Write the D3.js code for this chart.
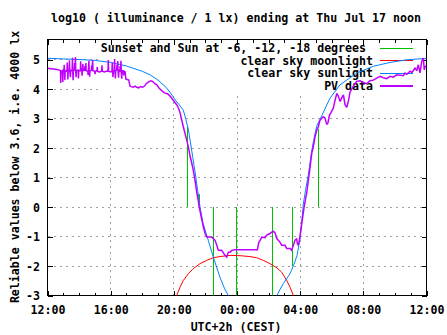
<!DOCTYPE html>
<html>
<head>
<meta charset="utf-8">
<script src="https://cdn.jsdelivr.net/npm/d3@7"></script>
<style>
  html, body { margin: 0; padding: 0; background: #fff; }
  svg { display: block; }
  text {
    font-family: "DejaVu Sans Mono", "Liberation Mono", monospace;
    font-weight: bold;
    font-size: 11.6px;
    fill: #000;
    white-space: pre;
  }
</style>
</head>
<body>
<svg id="chart" width="447" height="335"></svg>
<script>
// ---- labels -------------------------------------------------------------
const titleText = "log10 ( illuminance / 1 lx) ending at Thu Jul 17 noon";
const xAxisTitle = "UTC+2h (CEST)";
const yAxisTitle = "Reliable values below 3.6, i.e. 4000 lx";

// hours after 12:00 on the first day
const xTickHours = [0, 4, 8, 12, 16, 20, 24];
const xTickLabels = ["12:00", "16:00", "20:00", "00:00", "04:00", "08:00", "12:00"];
const xMinorHours = d3.range(0, 25, 1);
const yTickValues = [-3, -2, -1, 0, 1, 2, 3, 4, 5];
const yTop = 5.678;

const seriesNames = [
  "Sunset and Sun at -6, -12, -18 degrees ",
  "clear sky moonlight",
  "clear sky sunlight",
  "PV data"
];
const seriesColors = ["#00c000", "#ff0000", "#0080ff", "#c000ff"];

// ---- data: [hours after 12:00, log10(lx)] -----------------------------------
// sunset / twilight markers: [hour, end value of the bar drawn from 0]
const sunEvents = [
  [8.85, 2.70], [9.59, 0.43], [10.50, -3.0], [11.92, -3.0],
  [14.20, -3.0], [15.51, -2.0], [17.15, 2.65]
];

const moonlight = [
  [8.05, -3.3], [8.18, -3.00], [8.39, -2.72], [8.60, -2.49], [8.92, -2.26],
  [9.23, -2.09], [9.66, -1.92], [10.08, -1.81], [10.50, -1.72], [10.92, -1.68],
  [11.56, -1.64], [12.19, -1.65], [12.82, -1.68], [13.25, -1.72], [13.67, -1.81],
  [14.09, -1.92], [14.52, -2.06], [14.83, -2.21], [15.15, -2.49], [15.36, -2.72],
  [15.57, -3.00], [15.66, -3.3]
];

const sunlightEvening = [
  [0, 5.04], [1, 5.02], [2, 5.00], [3, 4.97], [4, 4.90], [5, 4.78], [6, 4.60],
  [6.5, 4.48], [7, 4.30], [7.5, 4.06], [7.8, 3.86], [8.1, 3.62], [8.35, 3.46],
  [8.6, 3.28], [8.75, 3.00], [8.92, 2.62], [9.05, 2.20], [9.2, 1.68], [9.34, 1.20],
  [9.5, 0.60], [9.66, 0.00], [9.85, -0.55], [10.18, -1.13], [10.5, -1.70],
  [10.92, -2.38], [11.2, -2.75], [11.45, -3.00], [11.6, -3.25]
];
const sunlightMorning = [
  [14.35, -3.2], [14.52, -3.00], [14.93, -2.60], [15.36, -2.26], [15.6, -1.95],
  [15.8, -1.65], [16.0, -1.05], [16.1, -0.50], [16.2, 0.10], [16.35, 0.60],
  [16.52, 1.10], [16.73, 1.90], [16.85, 2.25], [17.05, 2.75], [17.37, 3.10],
  [17.89, 3.69], [18.52, 4.14], [19.58, 4.54], [20.63, 4.77], [21.69, 4.90],
  [22.75, 4.99], [23.8, 5.03], [24, 5.04]
];

const pvData = [
  [0.00, 4.70], [0.20, 4.69], [0.40, 4.68], [0.60, 4.66], [0.75, 4.64],
  // afternoon: broken cloud, short spikes around a steady level
  [0.82, 4.62], [0.84, 4.20], [0.86, 4.60], [0.95, 4.62], [0.97, 4.24], [0.99, 4.64],
  [1.04, 4.63], [1.06, 4.82], [1.08, 4.60], [1.10, 4.30], [1.12, 4.62], [1.23, 4.60],
  [1.25, 4.90], [1.27, 4.60], [1.29, 4.32], [1.31, 4.61], [1.37, 4.63], [1.39, 4.97],
  [1.41, 4.62], [1.45, 4.40], [1.47, 4.63], [1.56, 4.62], [1.58, 5.06], [1.60, 4.60],
  [1.62, 4.30], [1.64, 4.62], [1.70, 4.66], [1.72, 4.88], [1.74, 4.62], [1.77, 5.08],
  [1.79, 4.60], [1.81, 4.40], [1.83, 4.62], [1.94, 4.64], [1.96, 4.36], [1.98, 4.62],
  [2.08, 4.62], [2.10, 4.94], [2.12, 4.60], [2.17, 4.62], [2.19, 4.45], [2.21, 4.63],
  [2.24, 4.85], [2.26, 4.62], [2.35, 4.64], [2.37, 4.78], [2.39, 4.62], [2.41, 4.63],
  [2.43, 4.88], [2.45, 4.62], [2.55, 4.60], [2.57, 4.48], [2.59, 4.61], [2.62, 4.96],
  [2.64, 4.60], [2.67, 4.42], [2.69, 4.62], [2.78, 4.64], [2.80, 4.80], [2.82, 4.62],
  [2.86, 4.98], [2.88, 4.62], [2.99, 4.60], [3.01, 4.50], [3.03, 4.60], [3.13, 4.62],
  [3.15, 4.74], [3.17, 4.60], [3.30, 4.58], [3.43, 4.60], [3.45, 4.80], [3.47, 4.60],
  [3.60, 4.58], [3.70, 4.60], [3.83, 4.60], [3.85, 4.98], [3.87, 4.60], [4.00, 4.58],
  [4.08, 4.60], [4.10, 4.90], [4.12, 4.60], [4.15, 4.40], [4.17, 4.60], [4.23, 4.62],
  [4.25, 5.02], [4.27, 4.60], [4.30, 4.36], [4.32, 4.62], [4.38, 4.64], [4.40, 4.82],
  [4.42, 4.62], [4.45, 4.95], [4.47, 4.60], [4.50, 4.38], [4.52, 4.62], [4.58, 4.60],
  [4.60, 4.78], [4.62, 4.60], [4.65, 4.96], [4.67, 4.60], [4.70, 4.35], [4.72, 4.62],
  [4.80, 4.62], [4.83, 4.46], [4.85, 4.60], [4.92, 4.58],
  // evening
  [4.96, 4.34], [5.05, 4.32], [5.15, 4.30], [5.22, 4.10], [5.30, 4.08], [5.42, 4.06],
  [5.55, 4.10], [5.65, 4.06], [5.78, 4.04], [5.90, 4.08], [6.02, 4.06], [6.15, 4.10],
  [6.25, 4.18], [6.40, 4.24], [6.55, 4.28], [6.65, 4.26], [6.80, 4.18], [6.92, 4.14],
  [7.05, 4.04], [7.20, 3.96], [7.33, 3.90], [7.45, 3.86], [7.60, 3.84], [7.76, 3.76],
  [7.90, 3.66], [8.05, 3.56], [8.20, 3.45], [8.30, 3.35], [8.39, 3.20], [8.50, 2.95],
  [8.60, 2.72], [8.71, 2.49], [8.82, 2.26], [8.92, 2.04], [9.03, 1.72], [9.13, 1.50],
  [9.23, 1.25], [9.34, 0.91], [9.45, 0.50], [9.55, 0.20], [9.61, 0.00], [9.72, -0.30],
  [9.80, -0.50], [9.87, -0.68], [9.98, -0.90], [10.08, -1.02],
  // night
  [10.40, -1.02], [10.61, -1.13], [10.72, -1.30], [10.82, -1.47], [11.03, -1.47],
  [11.24, -1.64], [11.35, -1.70], [11.45, -1.53], [11.56, -1.53], [11.67, -1.47],
  [11.87, -1.45], [13.29, -1.45], [13.38, -1.20], [13.46, -1.13], [13.57, -1.02],
  [13.78, -1.04], [13.88, -0.95], [14.09, -0.90], [14.20, -0.85], [14.30, -0.82],
  [14.41, -0.88], [14.52, -1.07], [14.72, -1.19], [14.83, -1.30], [15.04, -1.30],
  [15.15, -1.41], [15.36, -1.41], [15.46, -1.47], [15.57, -1.30], [15.67, -1.13],
  [15.78, -1.07], [15.82, -1.24], [15.88, -1.30], [15.95, -1.13], [16.04, -0.79],
  // morning
  [16.16, -0.34], [16.25, 0.00], [16.42, 0.50], [16.52, 0.91], [16.63, 1.36],
  [16.73, 1.81], [16.83, 2.04], [16.94, 2.38], [17.05, 2.60], [17.15, 2.72],
  [17.25, 2.94], [17.46, 3.06], [17.57, 3.02], [17.68, 2.80], [17.76, 2.85],
  [17.85, 3.11], [17.95, 3.20], [18.10, 3.35], [18.21, 3.62], [18.32, 3.85],
  [18.42, 3.75], [18.53, 3.58], [18.63, 3.70], [18.74, 3.80], [18.84, 3.47],
  [18.95, 3.38], [19.05, 3.58], [19.16, 3.90], [19.37, 4.10], [19.58, 4.26],
  [19.79, 4.28], [20.00, 4.22], [20.21, 4.18], [20.42, 4.28], [20.63, 4.30],
  [20.85, 4.37], [21.06, 4.43], [21.27, 4.38], [21.48, 4.35], [21.69, 4.43],
  [21.90, 4.40], [22.11, 4.48], [22.32, 4.47], [22.53, 4.45], [22.64, 4.54],
  [22.75, 4.50], [22.96, 4.60], [23.08, 4.56], [23.27, 4.71], [23.38, 4.62],
  [23.48, 4.82], [23.59, 4.55], [23.70, 4.94], [23.80, 5.05], [23.86, 4.65],
  [23.91, 4.75], [24.00, 4.80]
];

// ---- layout ---------------------------------------------------------------
const plot = { left: 47.5, right: 426.5, top: 39.5, bottom: 295.5 };
const keyBox = { left: 99, bottom: 93 };
const keyTextRight = 373;
const keySample = [380, 413];
const keyRowY = [48, 60.5, 73, 86];

const x = d3.scaleLinear().domain([0, 24]).range([plot.left, plot.right]);
const y = d3.scaleLinear().domain([-3, yTop]).range([plot.bottom, plot.top]);

const svg = d3.select("#chart");
svg.append("rect").attr("width", 447).attr("height", 335).attr("fill", "#fff");

svg.append("defs").append("clipPath").attr("id", "plotClip")
  .append("rect")
  .attr("x", plot.left).attr("y", plot.top)
  .attr("width", plot.right - plot.left).attr("height", plot.bottom - plot.top);

// ---- grid (kept out of the key area) -------------------------------------
const grid = svg.append("g")
  .attr("stroke", "#a0a0a0").attr("stroke-width", 1)
  .attr("stroke-dasharray", "2,4").attr("shape-rendering", "crispEdges");

yTickValues.filter(v => v > -3).forEach(v => {
  const yy = Math.round(y(v) - 0.5) + 0.5;
  const x2 = yy < keyBox.bottom ? keyBox.left : plot.right;
  grid.append("line").attr("x1", plot.left).attr("x2", x2).attr("y1", yy).attr("y2", yy);
});
xTickHours.filter(h => h > 0 && h < 24).forEach(h => {
  const xx = Math.round(x(h) - 0.5) + 0.5;
  const y1 = xx > keyBox.left ? keyBox.bottom : plot.top;
  grid.append("line").attr("x1", xx).attr("x2", xx).attr("y1", plot.bottom).attr("y2", y1);
});

// ---- axes: border + inward ticks on all four sides -----------------------
const axes = svg.append("g").attr("shape-rendering", "crispEdges");
const major = 5, minor = 3;

const xBottom = d3.axisBottom(x).tickValues(xTickHours)
  .tickFormat((d, i) => xTickLabels[i]).tickSizeInner(-major).tickSizeOuter(0).tickPadding(12);
const gxb = axes.append("g").attr("transform", `translate(0,${plot.bottom})`).call(xBottom);

const xBottomMinor = d3.axisBottom(x).tickValues(xMinorHours)
  .tickFormat("").tickSizeInner(-minor).tickSizeOuter(0);
axes.append("g").attr("transform", `translate(0,${plot.bottom})`).call(xBottomMinor);

const xTop = d3.axisTop(x).tickValues(xTickHours).tickFormat("").tickSizeInner(-major).tickSizeOuter(0);
axes.append("g").attr("transform", `translate(0,${plot.top})`).call(xTop);
const xTopMinor = d3.axisTop(x).tickValues(xMinorHours).tickFormat("").tickSizeInner(-minor).tickSizeOuter(0);
axes.append("g").attr("transform", `translate(0,${plot.top})`).call(xTopMinor);

const yLeft = d3.axisLeft(y).tickValues(yTickValues).tickFormat(d3.format("d"))
  .tickSizeInner(-major).tickSizeOuter(0).tickPadding(12);
const gyl = axes.append("g").attr("transform", `translate(${plot.left},0)`).call(yLeft);

const yRight = d3.axisRight(y).tickValues(yTickValues).tickFormat("").tickSizeInner(-major).tickSizeOuter(0);
axes.append("g").attr("transform", `translate(${plot.right},0)`).call(yRight);

axes.selectAll(".domain").remove();
axes.selectAll(".tick line").attr("stroke", "#000");
axes.selectAll(".tick text").attr("font-family", null).attr("font-size", null);

gxb.selectAll(".tick text").attr("dy", null).attr("y", 18);
gyl.selectAll(".tick text").attr("dy", null).attr("x", -7.5).attr("y", 4);
gyl.selectAll(".tick text").text(d => d < 0 ? "-" + Math.abs(d) : String(d));

axes.append("rect")
  .attr("x", plot.left).attr("y", plot.top)
  .attr("width", plot.right - plot.left).attr("height", plot.bottom - plot.top)
  .attr("fill", "none").attr("stroke", "#000").attr("stroke-width", 1);

// ---- titles ---------------------------------------------------------------
svg.append("text").attr("x", 236).attr("y", 22).attr("text-anchor", "middle").text(titleText);
svg.append("text").attr("x", 236).attr("y", 331).attr("text-anchor", "middle").text(xAxisTitle);
svg.append("text").attr("transform", "translate(19,167) rotate(-90)")
  .attr("text-anchor", "middle").text(yAxisTitle);

// ---- key entry + series, drawn in plotting order --------------------------
function keyEntry(i) {
  svg.append("text").attr("x", keyTextRight).attr("y", keyRowY[i] + 4)
    .attr("text-anchor", "end").text(seriesNames[i]);
  svg.append("line").attr("x1", keySample[0]).attr("x2", keySample[1])
    .attr("y1", keyRowY[i]).attr("y2", keyRowY[i])
    .attr("stroke", seriesColors[i]).attr("stroke-width", i === 3 ? 1.5 : 1)
    .attr("shape-rendering", "crispEdges");
}

const line = d3.line().x(d => x(d[0])).y(d => y(d[1]));

// 0: sunset / twilight bars
keyEntry(0);
const evG = svg.append("g").attr("clip-path", "url(#plotClip)");
evG.selectAll("line").data(sunEvents).join("line")
  .attr("x1", d => Math.round(x(d[0])) + 0.5).attr("x2", d => Math.round(x(d[0])) + 0.5)
  .attr("y1", y(0)).attr("y2", d => y(d[1]))
  .attr("stroke", seriesColors[0]).attr("stroke-width", 1)
  .attr("shape-rendering", "crispEdges");

// 1: moonlight
keyEntry(1);
svg.append("g").attr("clip-path", "url(#plotClip)").append("path")
  .datum(moonlight).attr("d", line)
  .attr("fill", "none").attr("stroke", seriesColors[1]).attr("stroke-width", 1);

// 2: clear sky sunlight
keyEntry(2);
const sunG = svg.append("g").attr("clip-path", "url(#plotClip)");
[sunlightEvening, sunlightMorning].forEach(seg => {
  sunG.append("path").datum(seg).attr("d", line)
    .attr("fill", "none").attr("stroke", seriesColors[2]).attr("stroke-width", 1);
});

// 3: measured PV data
keyEntry(3);
svg.append("g").attr("clip-path", "url(#plotClip)").append("path")
  .datum(pvData).attr("d", line)
  .attr("fill", "none").attr("stroke", seriesColors[3]).attr("stroke-width", 1.5)
  .attr("stroke-linejoin", "miter").attr("stroke-miterlimit", 2);
</script>
</body>
</html>
